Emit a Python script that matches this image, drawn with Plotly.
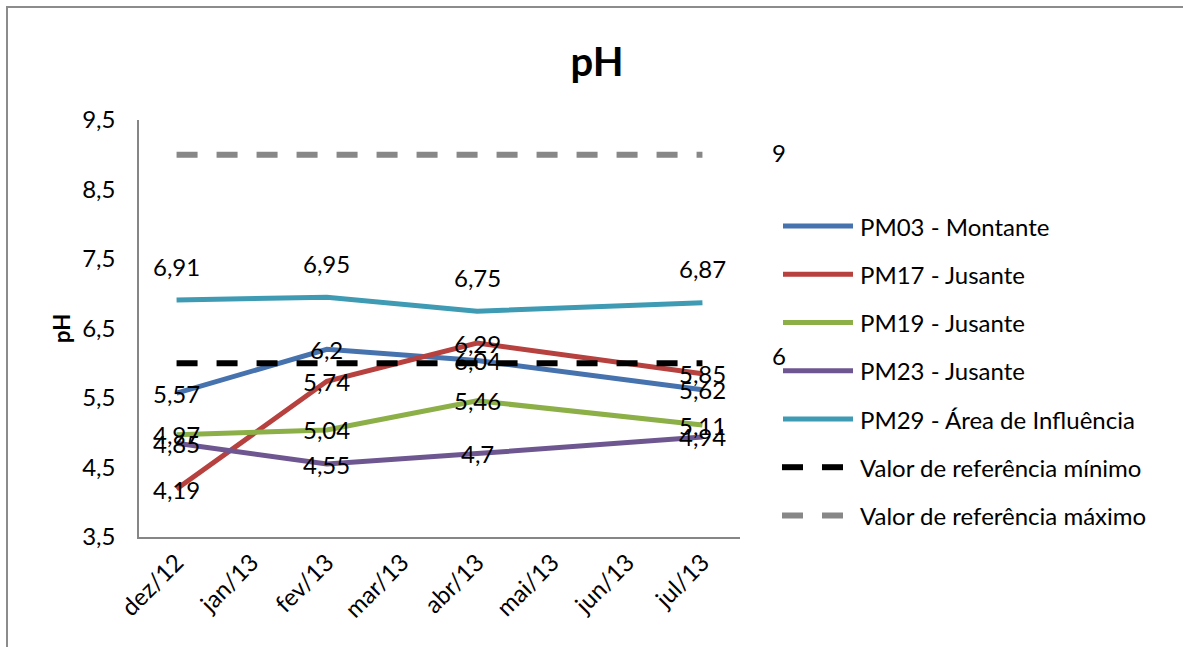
import plotly.graph_objects as go

months = ["dez/12", "jan/13", "fev/13", "mar/13", "abr/13", "mai/13", "jun/13", "jul/13"]
pm03 = [5.57, None, 6.2, None, 6.04, None, None, 5.62]
pm17 = [4.19, None, 5.74, None, 6.29, None, None, 5.85]
pm19 = [4.97, None, 5.04, None, 5.46, None, None, 5.11]
pm23 = [4.85, None, 4.55, None, 4.7, None, None, 4.94]
pm29 = [6.91, None, 6.95, None, 6.75, None, None, 6.87]
ref_min = [6, None, 6, None, 6, None, None, 6]
ref_max = [9, None, 9, None, 9, None, None, 9]
y_ticks = [3.5, 4.5, 5.5, 6.5, 7.5, 8.5, 9.5]

names = ["PM03 - Montante", "PM17 - Jusante", "PM19 - Jusante", "PM23 - Jusante",
         "PM29 - Área de Influência", "Valor de referência mínimo", "Valor de referência máximo"]
values = [pm03, pm17, pm19, pm23, pm29, ref_min, ref_max]
colors = ["#4672AE", "#B7413E", "#8CAF48", "#6E5791", "#3E9BB3", "#000000", "#878787"]
dashes = [None, None, None, None, None, "21px,19px", "21px,19px"]
widths = [5, 5, 5, 5, 5, 6, 6]

FONT = "Lato, 'Open Sans', sans-serif"
W, H = 1183, 647
L, R, T, B = 139, 740, 120, 537  # plot area in px


def px_x(px):
    return (px - L) / (R - L)


def px_y(py):
    return (B - py) / (B - T)


def fmt(v):
    return ("%g" % v).replace(".", ",")


fig = go.Figure()
for name, vals, col, dash, w in zip(names, values, colors, dashes, widths):
    fig.add_trace(go.Scatter(
        x=months, y=vals, mode="lines", name=name, connectgaps=True,
        line=dict(color=col, width=w, dash=dash), showlegend=False,
    ))

annotations = []
# data labels
for i, vals in enumerate(values):
    idx = [k for k, v in enumerate(vals) if v is not None]
    if i < 5:
        for k in idx:
            annotations.append(dict(
                x=months[k], y=vals[k], xref="x", yref="y", text=fmt(vals[k]),
                showarrow=False, font=dict(family=FONT, size=24, color="black"),
                yshift=34 if i == 4 else 0,
            ))
    else:
        k = idx[-1]
        annotations.append(dict(
            x=months[k], y=vals[k], xref="x", yref="y", text=fmt(vals[k]),
            showarrow=False, font=dict(family=FONT, size=24, color="black"),
            xshift=77, yshift=2 if i == 6 else 8,
        ))

# axis title
annotations.append(dict(
    x=px_x(61), y=px_y(329), xref="paper", yref="paper", text="<b>pH</b>",
    xanchor="center", yanchor="middle",
    textangle=-90, showarrow=False, font=dict(family=FONT, size=22, color="black"),
))

# manual legend
shapes = []
row_y = [226, 274.3, 322.5, 370.7, 419, 467.2, 515.5]
for name, col, dash, w, ry in zip(names, colors, dashes, widths, row_y):
    if dash is None:
        shapes.append(dict(type="line", xref="paper", yref="paper",
                           x0=px_x(783), x1=px_x(853), y0=px_y(ry), y1=px_y(ry),
                           line=dict(color=col, width=5)))
    else:
        for x0 in (782, 822):
            shapes.append(dict(type="line", xref="paper", yref="paper",
                               x0=px_x(x0), x1=px_x(x0 + 21), y0=px_y(ry), y1=px_y(ry),
                               line=dict(color=col, width=6)))
    annotations.append(dict(
        x=px_x(858), y=px_y(ry), xref="paper", yref="paper", text=name,
        xanchor="left", yanchor="middle", showarrow=False,
        font=dict(family=FONT, size=24, color="black"),
    ))

# outer chart border
shapes.append(dict(type="rect", xref="paper", yref="paper",
                   x0=px_x(7), x1=px_x(W + 10), y0=px_y(H + 10), y1=px_y(7),
                   line=dict(color="#8C8C8C", width=2), layer="below"))

fig.update_layout(
    width=W, height=H,
    margin=dict(l=L, r=W - R, t=T, b=H - B, pad=0),
    paper_bgcolor="white", plot_bgcolor="white",
    separators=",.",
    title=dict(text="<b>pH</b>", x=597 / W, xanchor="center", y=1 - 62 / H, yanchor="middle",
               font=dict(family=FONT, size=40, color="black")),
    xaxis=dict(type="category", categoryorder="array", categoryarray=months,
               range=[-0.5, 7.5], showgrid=False, zeroline=False, showline=True,
               linecolor="#868686", linewidth=1.5, ticks="", tickangle=-45,
               tickfont=dict(family=FONT, size=24, color="black")),
    yaxis=dict(range=[3.5, 9.5], tickvals=y_ticks, tickformat=".1f", showgrid=False,
               zeroline=False, showline=True, linecolor="#868686", linewidth=1.5,
               ticks="", ticklabelstandoff=17,
               tickfont=dict(family=FONT, size=24, color="black")),
    annotations=annotations,
    shapes=shapes,
)

fig.write_html("out.html", config={"displayModeBar": False},
               post_script="document.body.style.margin='0px';document.body.style.overflow='hidden';")
